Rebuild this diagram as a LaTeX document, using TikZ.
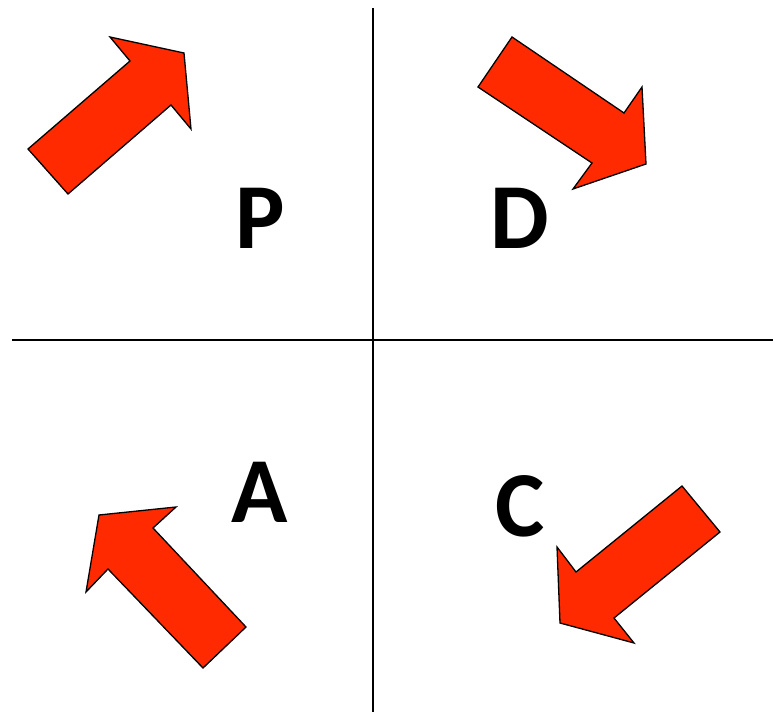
\documentclass[tikz,border=0pt]{standalone}
\usepackage{fontspec}
\setmainfont{Carlito}
\definecolor{rosso}{RGB}{255,42,0}

\begin{document}
\begin{tikzpicture}[x=1pt, y=-1pt]

% Stili
\tikzstyle{freccia} = [draw=black, line width=1.3pt, fill=rosso, line join=miter]
\tikzstyle{asse} = [draw=black, line width=1.6pt]
\tikzstyle{lettera} = [anchor=base, inner sep=0pt, font=\fontsize{93}{100}\selectfont\bfseries]

\useasboundingbox (0,0) rectangle (773,714);

% Assi
\coordinate (nord) at (373,8);
\coordinate (sud) at (373,712);
\coordinate (ovest) at (12,340);
\coordinate (est) at (773,340);
\draw [asse] (nord) -- (sud);
\draw [asse] (ovest) -- (est);

% Lettere
\node (plan) [lettera] at (260,248) {P};
\node (do) [lettera] at (520,248) {D};
\node (act) [lettera] at (260,522) {A};
\node (check) [lettera] at (520,536) {C};

% Frecce
\path [freccia] (28,149) -- (130,61) -- (110,37) -- (184,53) -- (191,129) -- (171,105) -- (68,194) -- cycle;
\path [freccia] (512,37) -- (624,113) -- (642,87) -- (646,164) -- (573,189) -- (592,163) -- (478,87) -- cycle;
\path [freccia] (246,627) -- (153,528) -- (176,507) -- (99,515) -- (86,592) -- (108,569) -- (203,668) -- cycle;
\path [freccia] (682,486) -- (576,572) -- (557,547) -- (560,623) -- (634,643) -- (614,618) -- (720,532) -- cycle;

\end{tikzpicture}
\end{document}
